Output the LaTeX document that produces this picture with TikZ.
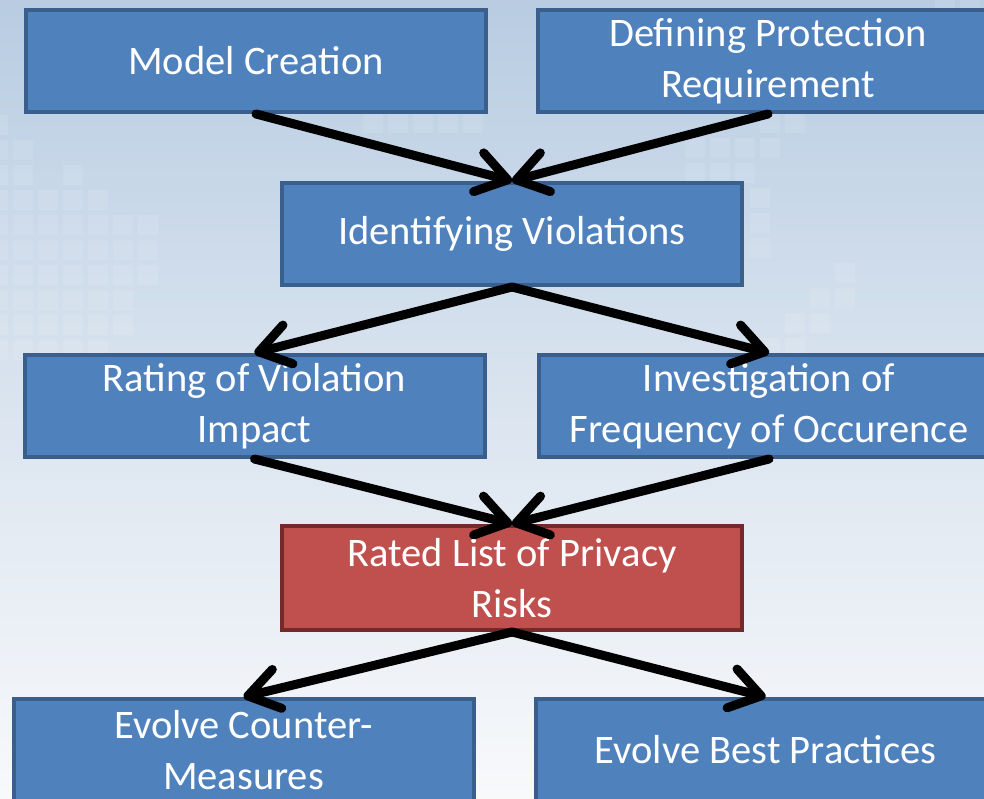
\documentclass[tikz,border=0pt]{standalone}
\usepackage{fontspec}
\setmainfont{Carlito}
\usetikzlibrary{arrows.meta}
\definecolor{boxblue}{HTML}{4F81BD}
\definecolor{boxblueline}{HTML}{3A5F8C}
\definecolor{boxred}{HTML}{C0504D}
\definecolor{boxredline}{HTML}{722B2A}
\definecolor{bgtop}{HTML}{B8CCE2}
\definecolor{bgmid}{HTML}{DAE4EF}
\definecolor{bgbot}{HTML}{F8F9FB}
\begin{document}
\begin{tikzpicture}[x=1pt,y=-1pt,
  stepbox/.style={draw=boxblueline, fill=boxblue, line width=4pt,
    minimum width=460pt, minimum height=102pt, inner sep=0pt,
    text=white, align=center, font=\fontsize{40.5}{51}\selectfont},
  redbox/.style={stepbox, draw=boxredline, fill=boxred},
  sqfill/.style={fill=white, opacity=0.1},
  flow/.style={line width=9pt, line cap=round,
    -{Straight Barb[length=30pt,width=40pt,round]}}]
\useasboundingbox (0,0) rectangle (984,799);
\clip (0,0) rectangle (984,799);
\shade[top color=bgtop, bottom color=bgbot, middle color=bgmid] (0,0) rectangle (984,799);

% faint background squares
\foreach \x/\ys in {-12/{115,140,165,190,215,240,265,290,315,340},
                    13/{140,165,190,215,240,265,290,315,340},
                    38/{190,215,240,265,290,315,340},
                    63/{165,190,215,240,265,290,315,340},
                    88/{190,215,240,265,290,315,340},
                    113/{215,240,265,290,315},
                    138/{215,240,265}}{
  \foreach \y in \ys {\fill[sqfill] (\x,\y) rectangle ++(20,20);}
}
\foreach \x/\y in {363/113,388/113,413/113,438/113,463/113,
                   760/113,785/113,
                   685/138,710/138,735/138,760/138,
                   685/163,710/163,735/163,
                   750/188,750/213,750/238,
                   835/263,810/288,835/288,785/313,810/313,760/338,785/338,
                   935/-12,960/-12}{
  \fill[sqfill] (\x,\y) rectangle ++(20,20);
}

\node[stepbox] (mc) at (256,61) {Model Creation};
\node[stepbox] (dp) at (768,61) {Defining Protection\\Requirement};
\node[stepbox] (iv) at (512,234) {Identifying Violations};
\node[stepbox] (rv) at (254.5,406) {Rating of Violation\\Impact};
\node[stepbox] (if) at (769,406) {Investigation of\\Frequency of Occurence};
\node[redbox, minimum height=104pt] (rl) at (512,578) {Rated List of Privacy\\Risks};
\node[stepbox] (ec) at (243.5,750) {Evolve Counter-\\Measures};
\node[stepbox] (eb) at (765.5,750) {Evolve Best Practices};

\draw[flow] (mc.south) -- (iv.north);
\draw[flow] (dp.south) -- (iv.north);
\draw[flow] (iv.south) -- (rv.north);
\draw[flow] (iv.south) -- (if.north);
\draw[flow] (rv.south) -- (rl.north);
\draw[flow] (if.south) -- (rl.north);
\draw[flow] (rl.south) -- (ec.north);
\draw[flow] (rl.south) -- (eb.north);
\end{tikzpicture}
\end{document}
